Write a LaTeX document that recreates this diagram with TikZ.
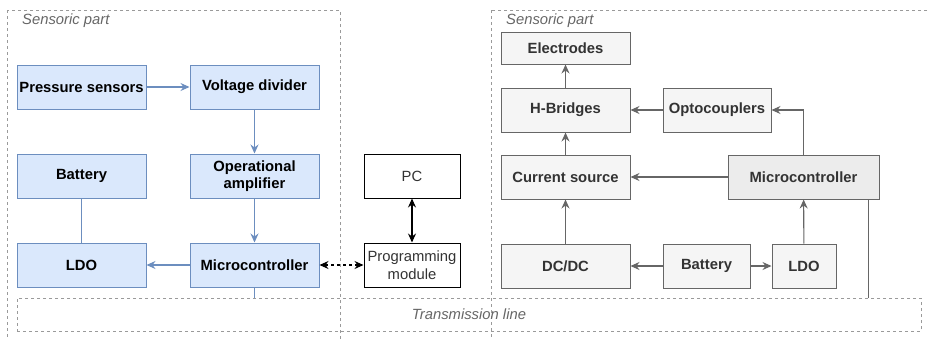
\documentclass[tikz,border=0pt]{standalone}
\usepackage{fontspec}
\setmainfont{Liberation Sans}
\usepackage{tikz}
\usetikzlibrary{arrows.meta,positioning}
\definecolor{blfill}{HTML}{DAE8FC}
\definecolor{bldraw}{HTML}{6C8EBF}
\definecolor{grfill}{HTML}{F5F5F5}
\definecolor{grdraw}{HTML}{666666}
\definecolor{mcfill}{HTML}{ECECEC}
\definecolor{txt}{HTML}{333333}
\definecolor{frame}{HTML}{9A9A9A}

\begin{document}
\begin{tikzpicture}[x=1pt,y=-1pt,
  lbox/.style={draw=bldraw,fill=blfill,line width=1pt,minimum width=129pt,minimum height=44pt,inner sep=1pt,align=center,font=\fontsize{14.8}{17.5}\selectfont\bfseries},
  rbox/.style={draw=grdraw,fill=grfill,line width=1pt,minimum width=129pt,minimum height=44pt,inner sep=1pt,align=center,text=txt,font=\fontsize{14.8}{17.5}\selectfont\bfseries},
  wbox/.style={draw=black,fill=white,line width=1pt,minimum width=96pt,minimum height=44pt,inner sep=1pt,align=center,text=txt,font=\fontsize{14.8}{17.5}\selectfont},
  grp/.style={draw=frame,dash pattern=on 3pt off 3pt,line width=0.7pt},
  grplabel/.style={text=grdraw,inner sep=2pt,font=\fontsize{14.8}{17.5}\selectfont\itshape},
  arl/.style={-{Stealth[length=9pt,width=8pt,inset=3pt]},bldraw,line width=1.1pt},
  arr/.style={-{Stealth[length=9pt,width=8pt,inset=3pt]},grdraw,line width=1.1pt},
  arb/.style={{Stealth[length=9pt,width=8pt,inset=3pt]}-{Stealth[length=9pt,width=8pt,inset=3pt]},black,line width=1.1pt}]
  \clip (0,0) rectangle (928,338);
  \draw[grp] (7,10) rectangle (340,350);
  \draw[grp] (491,10) rectangle (945,350);
  \node[grplabel,anchor=west] (lab1) at (20,21) {Sensoric part};
  \node[grplabel,anchor=west] (lab2) at (504,21) {Sensoric part};
  \node[lbox] (ps) at (81.5,87) {Pressure sensors};
  \node[lbox,right=43pt of ps] (vd) {Voltage divider};
  \node[lbox,below=44pt of vd] (oa) {Operational\\amplifier};
  \node[lbox,below=44pt of oa] (mcl) {Microcontroller};
  \node[lbox,below=44pt of ps] (batl) {Battery};
  \node[lbox,below=44pt of batl] (ldol) {LDO};
  \node[wbox,right=44pt of mcl] (prog) {Programming\\module};
  \node[wbox,above=44pt of prog] (pc) {PC};
  \node[rbox,minimum height=32pt] (el) at (565.5,48) {Electrodes};
  \node[rbox,below=23pt of el] (hb) {H-Bridges};
  \node[rbox,below=22pt of hb] (cs) {Current source};
  \node[rbox,below=44pt of cs] (dc) {DC/DC};
  \node[rbox,right=32pt of hb,minimum width=108pt] (opto) {Optocouplers};
  \node[rbox,right=97pt of cs,minimum width=151pt,fill=mcfill] (mcr) {Microcontroller};
  \node[rbox,right=32pt of dc,minimum width=87pt] (batr) {Battery};
  \node[rbox,right=21pt of batr,minimum width=64pt] (ldor) {LDO};
  \node[grp,minimum width=904pt,minimum height=33pt,grplabel] (tl) at (469,314.5) {Transmission line};
  \foreach \a/\b in {ps/vd,vd/oa,oa/mcl,mcl/ldol} \draw[arl] (\a)--(\b);
  \foreach \a/\b in {hb/el,cs/hb,opto/hb,mcr/cs,dc/cs,batr/dc,batr/ldor,ldor/mcr} \draw[arr] (\a)--(\b);
  \draw[bldraw,line width=1.1pt] (batl)--(ldol);
  \draw[bldraw,line width=1.1pt] (mcl.south)--(mcl.south |- tl.north);
  \draw[arb] (pc)--(prog);
  \draw[arb,dashed] (mcl)--(prog);
  \draw[arr] (mcr.north) |- (opto.east);
  \coordinate (mcrt) at ([xshift=-11pt]mcr.south east);
  \draw[grdraw,line width=1.1pt] (mcrt)--(mcrt |- tl.north);
\end{tikzpicture}
\end{document}
